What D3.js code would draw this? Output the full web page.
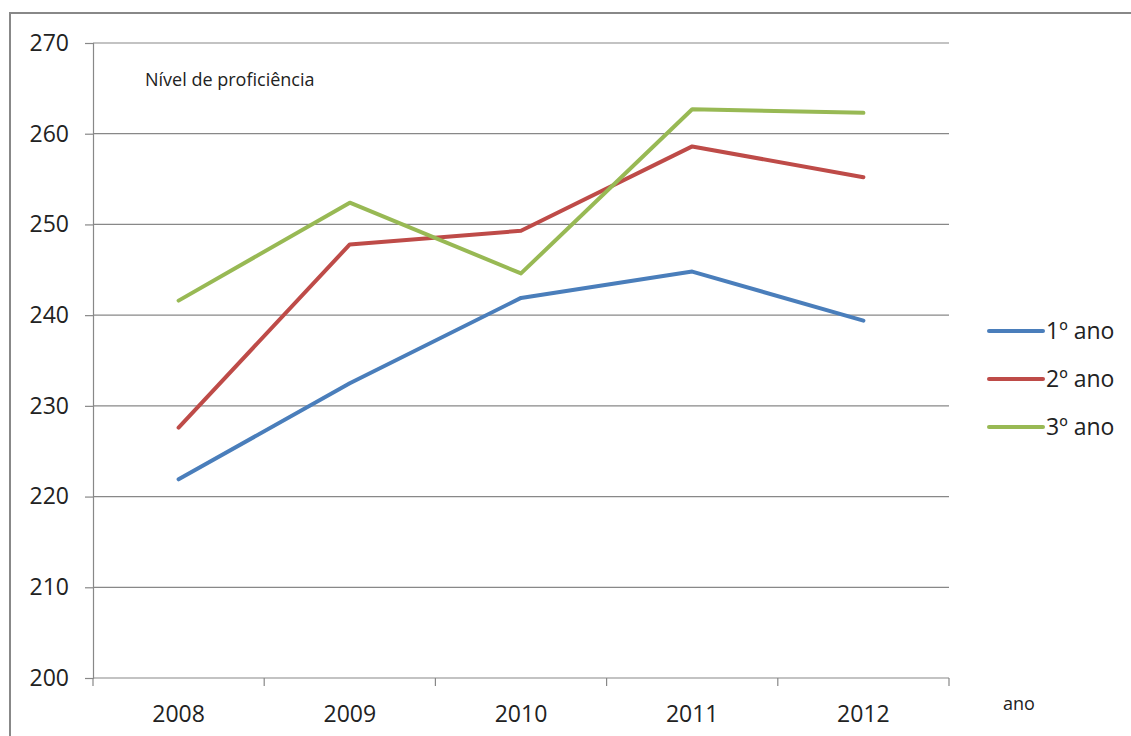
<!DOCTYPE html>
<html><head><meta charset="utf-8">
<script src="https://cdn.jsdelivr.net/npm/d3@7"></script>
<style>body{margin:0;background:#fff}svg{display:block}text{font-family:"Open Sans",sans-serif;fill:#222}</style>
</head><body>
<svg id="c" width="1131" height="736"></svg>
<script>
const years = ["2008","2009","2010","2011","2012"];
const seriesNames = ["1º ano","2º ano","3º ano"];
const ano1 = [221.9, 232.5, 241.9, 244.8, 239.4];
const ano2 = [227.6, 247.8, 249.3, 258.6, 255.2];
const ano3 = [241.6, 252.4, 244.6, 262.7, 262.3];
const yTicks = [200,210,220,230,240,250,260,270];
const colors = ["#4A7EBB","#BE4B48","#98B954"];
const seriesVals = [ano1, ano2, ano3];

const svg = d3.select("#c");
svg.append("rect").attr("x",10).attr("y",13).attr("width",1140).attr("height",740)
  .attr("fill","none").attr("stroke","#888").attr("stroke-width",2);

const L=93,R=949,T=43,B=678;
const x = d3.scaleBand().domain(years).range([L,R]);
const y = d3.scaleLinear().domain([200,270]).range([B,T]);

// grid
svg.append("g").selectAll("line").data(yTicks.slice(1)).join("line")
  .attr("x1",L).attr("x2",R).attr("y1",d=>y(d)).attr("y2",d=>y(d))
  .attr("stroke","#888").attr("stroke-width",1.2);

// y axis
const ya = svg.append("g").attr("transform",`translate(${L},0)`)
  .call(d3.axisLeft(y).tickValues(yTicks).tickSize(8).tickPadding(16).tickFormat(d3.format("d")));
ya.select(".domain").attr("stroke","#888").attr("stroke-width",1.2);
ya.selectAll(".tick line").attr("stroke","#888").attr("stroke-width",1.2);
ya.selectAll("text").attr("font-size",23).attr("fill","#222").attr("font-family","'Open Sans',sans-serif");

// x axis
const xa = svg.append("g").attr("transform",`translate(0,${B})`);
xa.append("line").attr("x1",L).attr("x2",R).attr("stroke","#888").attr("stroke-width",1.2);
const bounds = years.map(d=>x(d)).concat([R]);
xa.selectAll("line.t").data(bounds).join("line").attr("class","t")
  .attr("x1",d=>d).attr("x2",d=>d).attr("y1",0).attr("y2",8).attr("stroke","#888").attr("stroke-width",1.2);
xa.selectAll("text").data(years).join("text")
  .attr("x",d=>x(d)+x.bandwidth()/2).attr("y",44).attr("text-anchor","middle")
  .attr("font-size",23).text(d=>d);

// lines
const line = d3.line().x((d,i)=>x(years[i])+x.bandwidth()/2).y(d=>y(d));
svg.append("g").selectAll("path").data(seriesVals).join("path")
  .attr("d",line).attr("fill","none").attr("stroke",(d,i)=>colors[i])
  .attr("stroke-width",4).attr("stroke-linejoin","round").attr("stroke-linecap","round");

// legend
const lg = svg.append("g").selectAll("g").data(seriesNames).join("g")
  .attr("transform",(d,i)=>`translate(989,${331+i*48})`);
lg.append("line").attr("x1",0).attr("x2",54).attr("stroke",(d,i)=>colors[i]).attr("stroke-width",4).attr("stroke-linecap","round");
lg.append("text").attr("x",57).attr("y",8).attr("font-size",23).text(d=>d);

// annotations
svg.append("text").attr("x",145).attr("y",86).attr("font-size",18).text("Nível de proficiência");
svg.append("text").attr("x",1003).attr("y",710).attr("font-size",18).text("ano");
</script>
</body></html>
